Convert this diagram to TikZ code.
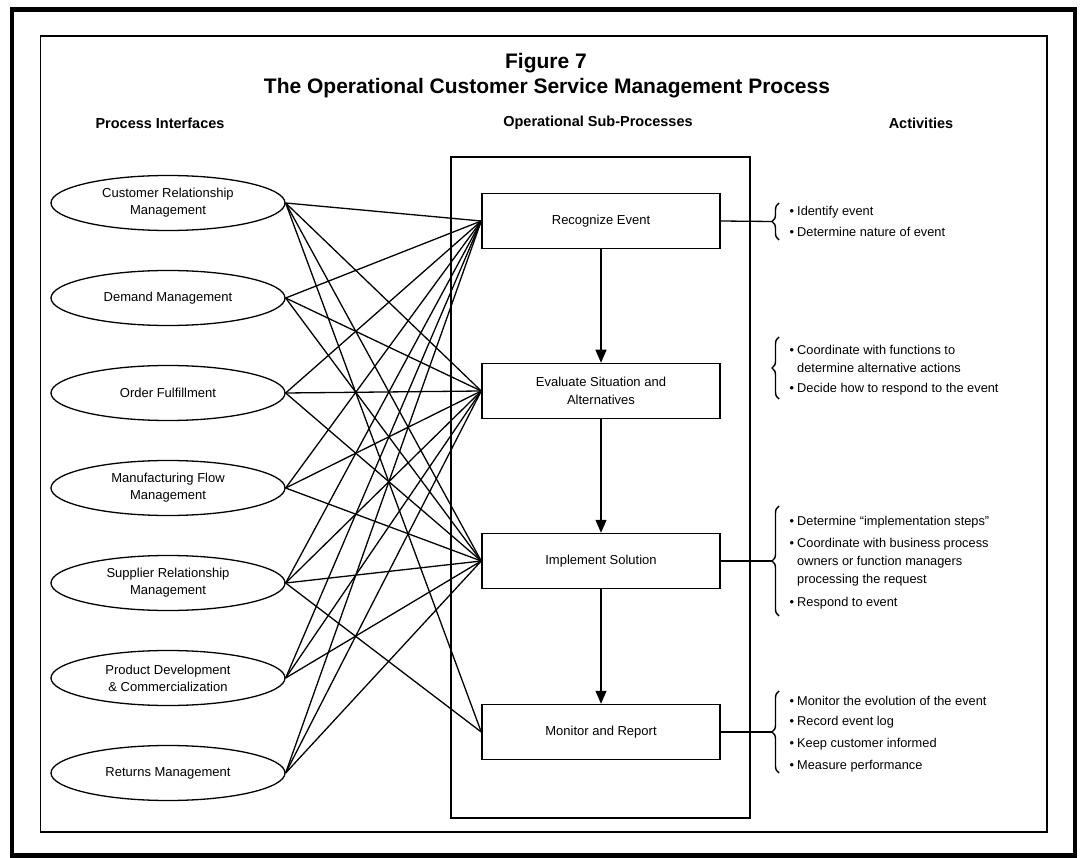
\documentclass[tikz,border=0pt]{standalone}
\usepackage{fontspec}
\setmainfont{Liberation Sans}
\usetikzlibrary{arrows.meta,decorations.pathreplacing,shapes.geometric}

\begin{document}
\begin{tikzpicture}[x=1pt,y=-1pt,
  iface/.style={draw, ellipse, line width=1.3pt, minimum width=234pt, minimum height=55pt,
    inner sep=0pt, align=center, font=\fontsize{13}{17}\selectfont},
  subproc/.style={draw, rectangle, line width=1.5pt, minimum width=238pt, minimum height=55pt,
    align=center, font=\fontsize{13}{18}\selectfont},
  link/.style={line width=1.3pt},
  flow/.style={line width=1.4pt, -{Triangle[length=13pt,width=11pt]}},
  hdr/.style={font=\bfseries\fontsize{14.5}{17}\selectfont},
  ttl/.style={font=\bfseries\fontsize{21}{24}\selectfont},
  act/.style={anchor=west, inner sep=0pt, font=\fontsize{12.8}{15}\selectfont},
  curly/.style={decorate, decoration={brace, amplitude=7pt}, line width=1.4pt},
  frameline/.style={draw, line width=1.5pt},
]
\newcommand\actbullet{\llap{\textbullet\hspace{3pt}}}
\useasboundingbox (0,0) rectangle (1084,858);

% page frames
\draw[line width=4.5pt] (12,9.5) rectangle (1075,855.5);
\draw[line width=1.8pt] (40.5,36) rectangle (1047,832);

% titles and column headings
\node[ttl] (fig) at (546,63) {Figure 7};
\node[ttl] (title) at (547,88) {The Operational Customer Service Management Process};
\node[hdr] (h1) at (160,123) {Process Interfaces};
\node[hdr] (h2) at (598,123) {Operational Sub-Processes};
\node[hdr] (h3) at (921,123) {Activities};

% container of the sub-processes
\node[frameline, minimum width=299pt, minimum height=661pt, inner sep=0pt] (cont) at (600.5,487.5) {};

% process interfaces
\node[iface] (crm) at (168,203) {Customer Relationship\\Management};
\node[iface] (dem) at (168,298) {Demand Management};
\node[iface] (ord) at (168,393) {Order Fulfillment};
\node[iface] (mfg) at (168,488) {Manufacturing Flow\\Management};
\node[iface] (sup) at (168,583) {Supplier Relationship\\Management};
\node[iface] (pdc) at (168,678) {Product Development\\\& Commercialization};
\node[iface] (ret) at (168,773) {Returns Management};

% operational sub-processes
\node[subproc] (rec) at (601,221) {Recognize Event};
\node[subproc] (eva) at (601,391) {Evaluate Situation and\\Alternatives};
\node[subproc] (imp) at (601,561) {Implement Solution};
\node[subproc] (mon) at (601,732) {Monitor and Report};

\draw[flow] (rec) -- (eva);
\draw[flow] (eva) -- (imp);
\draw[flow] (imp) -- (mon);

% interface links
\foreach \p in {crm,dem,ord,mfg,sup,pdc,ret}{
  \draw[link] (\p.east) -- (rec.west);
  \draw[link] (\p.east) -- (eva.west);
  \draw[link] (\p.east) -- (imp.west);
}
\draw[link] (crm.east) -- (mon.west);
\draw[link] (sup.east) -- (mon.west);

% activities: braces
\draw[curly] (779,240) -- coordinate[xshift=-7pt] (b1) (779,203);
\draw[curly] (779,399) -- coordinate[xshift=-7pt] (b2) (779,337);
\draw[curly] (779,616) -- coordinate[xshift=-7pt] (b3) (779,506);
\draw[curly] (779,773) -- coordinate[xshift=-7pt] (b4) (779,691);
\draw[link] (rec.east) -- (b1);
\draw[link] (imp.east) -- (b3);
\draw[link] (mon.east) -- (b4);

% activities: texts
\node[act] (a11) at (797,212) {\actbullet Identify event};
\node[act] (a12) at (797,232) {\actbullet Determine nature of event};

\node[act] (a21) at (797,350) {\actbullet Coordinate with functions to};
\node[act] (a22) at (797,368) {determine alternative actions};
\node[act] (a23) at (797,389) {\actbullet Decide how to respond to the event};

\node[act] (a31) at (797,522) {\actbullet Determine “implementation steps”};
\node[act] (a32) at (797,544) {\actbullet Coordinate with business process};
\node[act] (a33) at (797,562) {owners or function managers};
\node[act] (a34) at (797,580) {processing the request};
\node[act] (a35) at (797,603) {\actbullet Respond to event};

\node[act] (a41) at (797,701) {\actbullet Monitor the evolution of the event};
\node[act] (a42) at (797,722) {\actbullet Record event log};
\node[act] (a43) at (797,744) {\actbullet Keep customer informed};
\node[act] (a44) at (797,766) {\actbullet Measure performance};
\end{tikzpicture}
\end{document}
